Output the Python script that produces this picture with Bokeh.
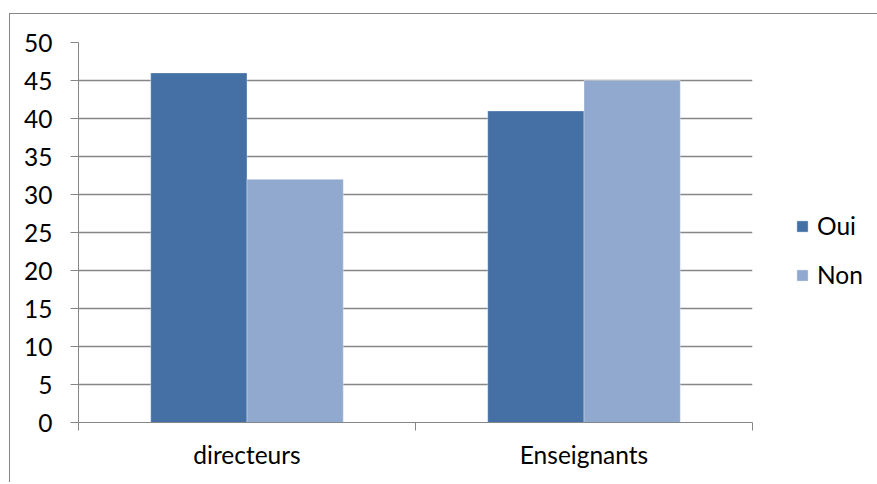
import numpy as np
from bokeh.plotting import figure
from bokeh.models import Range1d, FixedTicker, Legend, LegendItem
from bokeh.embed import file_html
from bokeh.resources import INLINE

categories = ["directeurs", "Enseignants"]
series = ["Oui", "Non"]
oui = [46, 41]
non = [32, 45]
y_ticks = [0, 5, 10, 15, 20, 25, 30, 35, 40, 45, 50]

FONT = "Lato"
FS = "24.5px"
GRAY = "#868686"
C_OUI = "#4470a5"
C_NON = "#91a9cf"

idx = np.arange(len(categories))
centers = idx + 0.5
w = 1 / 3.5

p = figure(
    output_backend="svg", toolbar_location=None,
    frame_width=674, frame_height=380,
    min_border_left=68, min_border_top=28, min_border_right=123, min_border_bottom=60,
    x_range=Range1d(0, len(categories)), y_range=Range1d(0, 50),
    margin=(13, 0, 0, 9),
    styles={"border-left": "1px solid #868686", "border-top": "1px solid #868686"},
)
p.outline_line_color = None
p.background_fill_color = "white"
p.border_fill_color = "white"

r_oui = p.vbar(x=centers - w / 2, top=oui, width=w, bottom=0,
               fill_color=C_OUI, line_color="#ffffff", line_alpha=0.35, line_width=1)
r_non = p.vbar(x=centers + w / 2, top=non, width=w, bottom=0,
               fill_color=C_NON, line_color="#ffffff", line_alpha=0.35, line_width=1)

# x axis
xa = p.xaxis[0]
xa.ticker = FixedTicker(ticks=list(centers), minor_ticks=list(range(len(categories) + 1)))
xa.major_label_overrides = {float(c): n for c, n in zip(centers, categories)}
xa.major_tick_line_color = None
xa.minor_tick_line_color = GRAY
xa.minor_tick_out = 8
xa.minor_tick_in = 0
xa.axis_line_color = GRAY
xa.major_label_text_font = FONT
xa.major_label_text_font_size = FS
xa.major_label_text_color = "black"
xa.major_label_standoff = 9

# y axis
ya = p.yaxis[0]
ya.ticker = FixedTicker(ticks=y_ticks)
ya.axis_line_color = GRAY
ya.major_tick_line_color = GRAY
ya.major_tick_out = 8
ya.major_tick_in = 0
ya.minor_tick_line_color = None
ya.major_label_text_font = FONT
ya.major_label_text_font_size = FS
ya.major_label_text_color = "black"
ya.major_label_standoff = 18

p.xgrid.visible = False
p.ygrid.grid_line_color = GRAY
p.ygrid.grid_line_width = 1.3
p.ygrid.ticker = FixedTicker(ticks=y_ticks)

legend = Legend(
    items=[LegendItem(label=series[0], renderers=[r_oui]),
           LegendItem(label=series[1], renderers=[r_non])],
    location=(43, 133),
    glyph_width=14, glyph_height=14, label_height=24, spacing=20,
    label_standoff=8, padding=0, margin=0,
    border_line_color=None, background_fill_alpha=0,
    label_text_font=FONT, label_text_font_size=FS, label_text_color="black",
)
p.add_layout(legend, "right")

open("out.html", "w").write(file_html(p, INLINE))
